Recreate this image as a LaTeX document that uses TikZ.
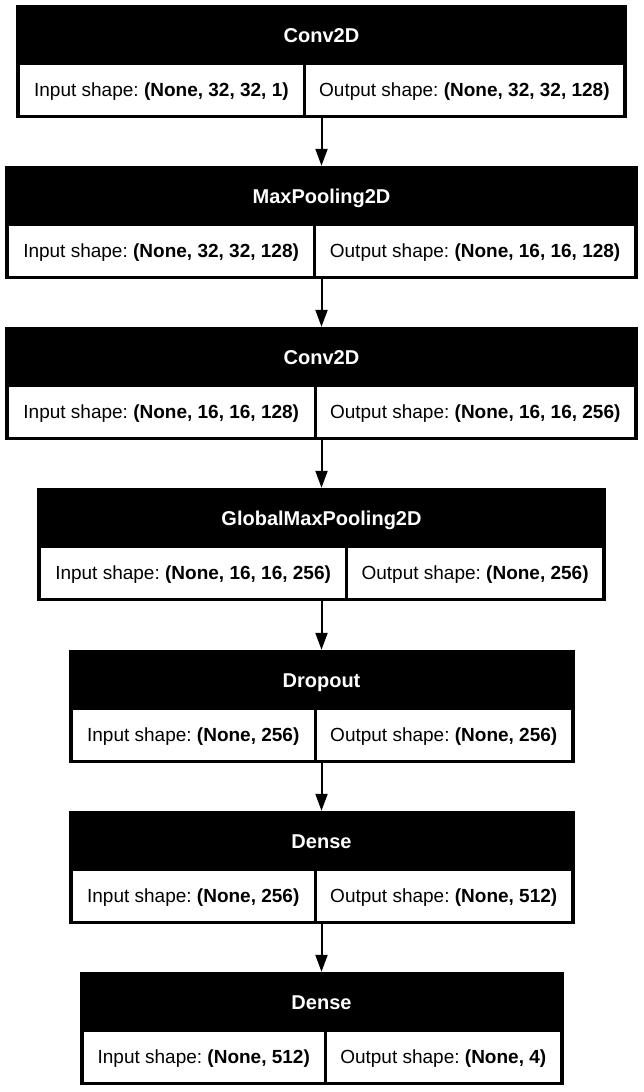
\documentclass[tikz,border=0pt]{standalone}
\usepackage{fontspec}
\setmainfont{Liberation Sans}
\usepackage{tikz}
\usetikzlibrary{arrows.meta}
\frenchspacing

\tikzset{
    layer/.style={rectangle, fill=black, inner sep=0pt, minimum height=113pt},
    ttl/.style={anchor=base, text=white, font=\fontsize{20}{24}\selectfont\bfseries},
    cell/.style={rectangle, fill=white, inner sep=0pt, minimum height=50pt, text height=13.5pt, text depth=0pt, font=\fontsize{19}{23}\selectfont},
    flow/.style={-{Triangle[length=17pt,width=12pt]}, line width=2pt}
}

\begin{document}
\begin{tikzpicture}[x=1pt, y=-1pt]
            \path [fill=white] (0,0) rectangle (643,1092);
            \useasboundingbox (0,0) rectangle (643,1092);

            \node [layer, minimum width=611pt] (C1) at (321.5,61.5) {};
            \node [ttl] (C1t) at (321.5,42) {Conv2D};
            \node [cell, minimum width=282.8pt] (C1i) at (161.4,90) {Input shape: \textbf{(None, 32, 32, 1)}};
            \node [cell, minimum width=317.2pt] (C1o) at (464.4,90) {Output shape: \textbf{(None, 32, 32, 128)}};

            \node [layer, minimum width=633pt] (P1) at (321.5,222.5) {};
            \node [ttl] (P1t) at (321.5,203) {MaxPooling2D};
            \node [cell, minimum width=304.2pt] (P1i) at (161.1,251) {Input shape: \textbf{(None, 32, 32, 128)}};
            \node [cell, minimum width=317.8pt] (P1o) at (475.1,251) {Output shape: \textbf{(None, 16, 16, 128)}};

            \node [layer, minimum width=633pt] (C2) at (321.5,383.5) {};
            \node [ttl] (C2t) at (321.5,364) {Conv2D};
            \node [cell, minimum width=304.5pt] (C2i) at (161.25,412) {Input shape: \textbf{(None, 16, 16, 128)}};
            \node [cell, minimum width=317.5pt] (C2o) at (475.25,412) {Output shape: \textbf{(None, 16, 16, 256)}};

            \node [layer, minimum width=569pt] (G1) at (321.5,544.5) {};
            \node [ttl] (G1t) at (321.5,525) {GlobalMaxPooling2D};
            \node [cell, minimum width=304.2pt] (G1i) at (193.1,573) {Input shape: \textbf{(None, 16, 16, 256)}};
            \node [cell, minimum width=253.8pt] (G1o) at (475.1,573) {Output shape: \textbf{(None, 256)}};

            \node [layer, minimum width=506pt] (R1) at (321.5,706.5) {};
            \node [ttl] (R1t) at (321.5,687) {Dropout};
            \node [cell, minimum width=241.5pt] (R1i) at (193.25,735) {Input shape: \textbf{(None, 256)}};
            \node [cell, minimum width=253.5pt] (R1o) at (443.75,735) {Output shape: \textbf{(None, 256)}};

            \node [layer, minimum width=506pt] (D1) at (321.5,867.5) {};
            \node [ttl] (D1t) at (321.5,848) {Dense};
            \node [cell, minimum width=241.5pt] (D1i) at (193.25,896) {Input shape: \textbf{(None, 256)}};
            \node [cell, minimum width=253.5pt] (D1o) at (443.75,896) {Output shape: \textbf{(None, 512)}};

            \node [layer, minimum width=484pt] (D2) at (321.5,1028.5) {};
            \node [ttl] (D2t) at (321.5,1009) {Dense};
            \node [cell, minimum width=240.5pt] (D2i) at (203.75,1057) {Input shape: \textbf{(None, 512)}};
            \node [cell, minimum width=232.5pt] (D2o) at (443.25,1057) {Output shape: \textbf{(None, 4)}};

            \draw [flow] (C1) -- (P1);
            \draw [flow] (P1) -- (C2);
            \draw [flow] (C2) -- (G1);
            \draw [flow] (G1) -- (R1);
            \draw [flow] (R1) -- (D1);
            \draw [flow] (D1) -- (D2);
\end{tikzpicture}
\end{document}
